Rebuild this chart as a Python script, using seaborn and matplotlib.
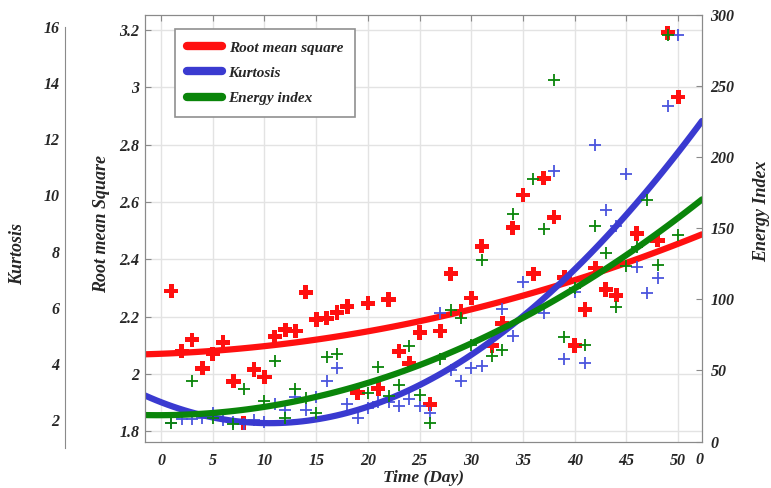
import matplotlib
matplotlib.use('Agg')
import matplotlib.pyplot as plt
from matplotlib.lines import Line2D
import seaborn as sns
import pandas as pd

# --- data ---
rms_days = list(range(1, 45)) + [46, 48, 49, 50]
rms_vals = [2.29, 2.08, 2.12, 2.02, 2.07, 2.11, 1.975, 1.83, 2.016, 1.99,
            2.13, 2.155, 2.15, 2.285, 2.19, 2.195, 2.215, 2.236, 1.935, 2.247,
            1.95, 2.26, 2.08, 2.037, 2.145, 1.895, 2.15, 2.35, 2.22, 2.265,
            2.446, 2.10, 2.177, 2.51, 2.624, 2.35, 2.683, 2.547, 2.337, 2.10,
            2.225, 2.37, 2.295, 2.275, 2.49, 2.467, 3.19, 2.966]

kurt_days = list(range(1, 32)) + [33, 34, 35] + list(range(37, 51))
kurt_vals = [1.9, 2.04, 2.04, 2.1, 2.25, 2.0, 1.93, 1.86, 2.0, 1.93,
             2.6, 2.36, 2.85, 2.36, 2.82, 3.39, 3.87, 2.6, 2.1, 2.46,
             2.64, 2.64, 2.53, 2.78, 2.53, 2.25, 5.84, 3.78, 3.42, 3.88,
             3.92, 5.98, 5.02, 6.94, 5.84, 10.87, 4.17, 6.58, 4.06, 11.8,
             9.5, 8.93, 10.77, 7.47, 6.55, 7.06, 13.2, 15.72]

energy_days = [1, 3, 5, 7, 8, 10, 11, 12, 13, 14, 15, 16, 17, 20, 21, 22, 23,
               24, 25, 26, 27, 28, 29, 30, 31, 32, 33, 34, 36, 37, 38, 39, 40,
               41, 42, 43, 44, 45, 46, 47, 48, 49, 50]
energy_vals = [13.3, 42.8, 16.8, 12.6, 37, 28.8, 56.8, 16.8, 37, 30.9, 20.3,
               59.6, 61.7, 34.4, 52.6, 32.3, 40, 67.3, 33, 13.3, 58.2, 92.6,
               87, 68, 128, 60.3, 64.5, 160, 184.5, 149.4, 254, 73.6, 108,
               68, 151.5, 132.6, 94.7, 123.4, 137, 169.7, 124, 286, 145]

# trend curves (smoothed with a polynomial fit)
fit_days = [-1.55, 0, 5, 10, 15, 20, 25, 30, 35, 40, 45, 50, 52.3]
rms_fit = [2.065, 2.07, 2.085, 2.10, 2.125, 2.15, 2.178, 2.222, 2.27, 2.33,
           2.395, 2.455, 2.484]
kurt_fit = [2.82, 2.62, 2.22, 1.95, 2.08, 2.55, 3.1, 4.1, 5.75, 7.6, 9.4,
            11.5, 12.6]
energy_fit = [18.2, 18.6, 20.3, 24.5, 32, 42, 52, 68, 88, 108, 132, 157, 170]

day_ticks = list(range(0, 55, 5))
rms_ticks = [1.8, 2, 2.2, 2.4, 2.6, 2.8, 3, 3.2]
rms_labels = ['1.8', '2', '2.2', '2.4', '2.6', '2.8', '3', '3.2']
kurt_ticks = [2, 4, 6, 8, 10, 12, 14, 16]
energy_ticks = [0, 50, 100, 150, 200, 250, 300]

RED = '#ff1010'
BLUE = '#3a3ad0'
GREEN = '#0a850a'
BLUE_PT = '#4b55dd'
SPINE = '#8a8a8a'
TXT = '#262626'

sns.set_style('white')
plt.rcParams['font.family'] = ['Liberation Serif', 'DejaVu Serif']
plt.rcParams['font.style'] = 'italic'
plt.rcParams['font.weight'] = 'bold'
plt.rcParams['axes.labelweight'] = 'bold'
plt.rcParams['text.color'] = TXT
plt.rcParams['axes.labelcolor'] = TXT
plt.rcParams['xtick.color'] = TXT
plt.rcParams['ytick.color'] = TXT

rms_df = pd.DataFrame({'day': rms_days, 'rms': rms_vals})
kurt_df = pd.DataFrame({'day': kurt_days, 'kurt': kurt_vals})
energy_df = pd.DataFrame({'day': energy_days, 'energy': energy_vals})
fit_df = pd.DataFrame({'day': fit_days, 'rms': rms_fit, 'kurt': kurt_fit,
                       'energy': energy_fit})

fig = plt.figure(figsize=(7.71, 4.88), dpi=100)
W, H = 771, 488
ax = fig.add_axes([145 / W, 1 - 441.5 / H, 557 / W, 426.5 / H])
ax_k = ax.twinx()
ax_e = ax.twinx()

# main axis: root mean square
ax.grid(True, color='#e3e3e3', lw=1)
ax.set_axisbelow(True)
sns.scatterplot(data=rms_df, x='day', y='rms', ax=ax, marker='P', s=105,
                color=RED, edgecolor='none', zorder=3)
sns.regplot(data=fit_df, x='day', y='rms', ax=ax, order=2, ci=None,
            scatter=False, line_kws=dict(color=RED, lw=4.5))
ax.set_xlim(-1.55, 52.3)
ax.set_ylim(1.765, 3.252)
ax.set_xticks(day_ticks)
ax.set_yticks(rms_ticks)
ax.set_yticklabels(rms_labels)
ax.tick_params(axis='x', direction='in', top=True, length=4, pad=8,
               labelsize=11.5, color=SPINE)
ax.tick_params(axis='y', direction='in', length=4, pad=4, labelsize=11.5,
               color=SPINE)
ax.set_xlabel('Time (Day)', fontsize=12.5, labelpad=1)
ax.set_ylabel('Root mean Square', fontsize=13)
ax.yaxis.set_label_coords(-0.063, 0.51)
for s in ax.spines.values():
    s.set_color(SPINE)
ax.text(0.9946, -0.043, '0', transform=ax.transAxes, ha='center',
        va='center', fontsize=11.5)

# kurtosis data (own scale)
sns.scatterplot(data=kurt_df, x='day', y='kurt', ax=ax_k, marker='+', s=85,
                color=BLUE_PT, linewidth=1.3)
sns.regplot(data=fit_df, x='day', y='kurt', ax=ax_k, order=3, ci=None,
            scatter=False, line_kws=dict(color=BLUE, lw=4.5))
ax_k.set_ylim(1.25, 16.43)
ax_k.set_yticks([])
ax_k.set_ylabel('')
for s in ax_k.spines.values():
    s.set_visible(False)

# energy index data (right scale)
sns.scatterplot(data=energy_df, x='day', y='energy', ax=ax_e, marker='+',
                s=85, color=GREEN, linewidth=1.3)
sns.regplot(data=fit_df, x='day', y='energy', ax=ax_e, order=3, ci=None,
            scatter=False, line_kws=dict(color=GREEN, lw=4.5))
ax_e.set_ylim(0, 300)
ax_e.set_yticks(energy_ticks)
ax_e.tick_params(axis='y', direction='in', length=4, pad=6, labelsize=11.5,
                 color=SPINE)
ax_e.set_ylabel('Energy Index', fontsize=13)
ax_e.yaxis.set_label_coords(1.092, 0.54)
for s in ax_e.spines.values():
    s.set_color(SPINE)
ax_e.set_xlim(-1.55, 52.3)

# outer kurtosis scale
ax_ks = fig.add_axes([65 / W, 1 - 448 / H, 0.001, 421 / H])
ax_ks.patch.set_alpha(0)
ax_ks.set_ylim(1, 16)
ax_ks.set_yticks(kurt_ticks)
ax_ks.set_xticks([])
for side in ['top', 'right', 'bottom']:
    ax_ks.spines[side].set_visible(False)
ax_ks.spines['left'].set_color(SPINE)
ax_ks.tick_params(axis='y', direction='in', length=4, pad=4, labelsize=11.5,
                  color=SPINE)
ax_ks.set_ylabel('Kurtosis', fontsize=13)
ax_ks.yaxis.set_label_coords(-50, 0.46)

handles = [Line2D([], [], color=RED, lw=6),
           Line2D([], [], color=BLUE, lw=6),
           Line2D([], [], color=GREEN, lw=6)]
leg = ax_e.legend(handles, ['Root mean square', 'Kurtosis', 'Energy index'],
                  loc='upper left', bbox_to_anchor=(0.054, 0.968),
                  borderaxespad=0, fontsize=11, handlelength=2.3,
                  handletextpad=0.4, labelspacing=0.75, borderpad=0.8,
                  fancybox=False, framealpha=1)
leg.get_frame().set_edgecolor('#909090')
leg.get_frame().set_linewidth(1.2)

fig.savefig('out.png', dpi=100)
